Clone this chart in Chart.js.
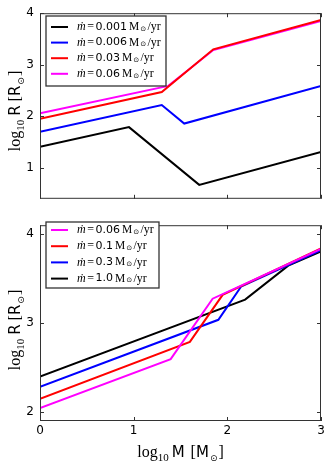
<!DOCTYPE html>
<html>
<head>
<meta charset="utf-8">
<script src="https://cdn.jsdelivr.net/npm/chart.js@4"></script>
<style>
html,body{margin:0;padding:0;background:#fff;}
#wrap{position:relative;width:332px;height:465px;overflow:hidden;background:#fff;}
canvas{position:absolute;left:0;}
</style>
</head>
<body>
<div id="wrap">
<canvas id="top" width="332" height="212" style="top:0"></canvas>
<canvas id="bot" width="332" height="253" style="top:212px"></canvas>
</div>
<script>
// ---------- data ----------
const xTicks = [0, 1, 2, 3];
const topYTicks = [1, 2, 3, 4];
const botYTicks = [2, 3, 4];

const topRates = ['0.001', '0.006', '0.03', '0.06'];
const topX = [
  [0, 0.95, 1.70, 3],
  [0, 1.30, 1.54, 3],
  [0, 1.30, 1.85, 3],
  [0, 1.37, 1.85, 3]
];
const topY = [
  [1.41, 1.79, 0.67, 1.31],
  [1.70, 2.22, 1.86, 2.59],
  [1.95, 2.47, 3.30, 3.87],
  [2.06, 2.59, 3.285, 3.85]
];

const botRates = ['0.06', '0.1', '0.3', '1.0'];
const botX = [
  [0, 1.395, 1.843, 3],
  [0, 1.60, 1.95, 3],
  [0, 1.904, 2.146, 3],
  [0, 2.19, 2.65, 3]
];
const botY = [
  [2.046, 2.595, 3.274, 3.834],
  [2.149, 2.789, 3.317, 3.84],
  [2.283, 3.037, 3.409, 3.82],
  [2.40, 3.264, 3.646, 3.805]
];

// ---------- styles ----------
const topColors = ['#000000', '#0000ff', '#ff0000', '#ff00ff'];
const botColors = ['#ff00ff', '#ff0000', '#0000ff', '#000000'];
const SANS = '"DejaVu Sans", sans-serif';
const SERIF = '"Liberation Serif", "DejaVu Serif", serif';

function drawRuns(ctx, runs, cx, cy, rotate) {
  ctx.save();
  ctx.translate(cx, cy);
  if (rotate) ctx.rotate(-Math.PI / 2);
  let total = 0;
  runs.forEach(r => { ctx.font = r.f; r.w = ctx.measureText(r.t).width; total += r.w + (r.sp || 0); });
  let x = -total / 2;
  ctx.fillStyle = '#000';
  ctx.textBaseline = 'alphabetic';
  ctx.textAlign = 'left';
  runs.forEach(r => { ctx.font = r.f; ctx.fillText(r.t, x, r.dy || 0); x += r.w + (r.sp || 0); });
  ctx.restore();
}
function drawRunsLeft(ctx, runs, x, y) {
  ctx.save();
  ctx.fillStyle = '#000';
  ctx.textBaseline = 'middle';
  ctx.textAlign = 'left';
  runs.forEach(r => { ctx.font = r.f; ctx.fillText(r.t, x, y + (r.dy || 0)); x += ctx.measureText(r.t).width + (r.sp || 0); });
  ctx.restore();
}
function legendRuns(rate) {
  return [
    {t: 'ṁ', f: 'italic 12px ' + SERIF, sp: 1.5},
    {t: '=', f: '12px ' + SERIF, sp: 1.5},
    {t: rate, f: '11px ' + SANS, sp: 2},
    {t: 'M', f: '11.5px ' + SERIF, sp: 1},
    {t: '⊙', f: '7px ' + SANS, dy: 2, sp: 1.5},
    {t: '/yr', f: '12px ' + SERIF}
  ];
}
function yTitleRuns() {
  return [
    {t: 'log', f: '16px ' + SERIF},
    {t: '10', f: '11px ' + SERIF, dy: 4, sp: 4},
    {t: 'R', f: '15px ' + SANS, sp: 4},
    {t: '[', f: '16px ' + SERIF},
    {t: 'R', f: '15px ' + SANS, sp: 1},
    {t: '⊙', f: '9px ' + SANS, dy: 4, sp: 1},
    {t: ']', f: '16px ' + SERIF}
  ];
}
function xTitleRuns() {
  return [
    {t: 'log', f: '16px ' + SERIF},
    {t: '10', f: '11px ' + SERIF, dy: 4, sp: 3},
    {t: 'M', f: '15px ' + SANS, sp: 6},
    {t: '[', f: '16px ' + SERIF},
    {t: 'M', f: '15px ' + SANS, sp: 1},
    {t: '⊙', f: '9px ' + SANS, dy: 4, sp: 1},
    {t: ']', f: '16px ' + SERIF}
  ];
}

const framePlugin = {
  id: 'frame',
  afterDatasetsDraw(chart, args, opts) {
    const ctx = chart.ctx, a = chart.chartArea;
    const xs = chart.scales.x, ys = chart.scales.y;
    ctx.save();
    ctx.strokeStyle = '#333';
    ctx.lineWidth = 1;
    ctx.strokeRect(a.left + 0.5, a.top + 0.5, a.right - a.left - 1, a.bottom - a.top - 1);
    ctx.beginPath();
    const L = 4;
    xTicks.forEach(v => {
      const px = Math.round(xs.getPixelForValue(v)) + 0.5;
      ctx.moveTo(px, a.bottom); ctx.lineTo(px, a.bottom - L);
      ctx.moveTo(px, a.top); ctx.lineTo(px, a.top + L);
    });
    opts.yt.forEach(v => {
      const py = Math.round(ys.getPixelForValue(v)) + 0.5;
      ctx.moveTo(a.left, py); ctx.lineTo(a.left + L, py);
      ctx.moveTo(a.right, py); ctx.lineTo(a.right - L, py);
    });
    ctx.stroke();
    // legend
    const lg = opts.legend;
    ctx.fillStyle = '#fff';
    ctx.fillRect(lg.x, lg.y, lg.w, lg.h);
    ctx.strokeStyle = '#333';
    ctx.lineWidth = 1.3;
    ctx.strokeRect(lg.x, lg.y, lg.w, lg.h);
    opts.rates.forEach((r, i) => {
      const yy = lg.y + lg.first + i * lg.step;
      ctx.strokeStyle = opts.colors[i];
      ctx.lineWidth = 2;
      ctx.beginPath();
      ctx.moveTo(lg.x + 5, yy); ctx.lineTo(lg.x + 22, yy);
      ctx.stroke();
      drawRunsLeft(ctx, legendRuns(r), lg.x + 31, yy);
    });
    // titles
    drawRuns(ctx, yTitleRuns(), 20, opts.ytitleY, true);
    if (opts.xtitle) drawRuns(ctx, xTitleRuns(), (a.left + a.right) / 2, opts.xtitleY, false);
    ctx.restore();
  }
};

function makeDatasets(X, Y, colors) {
  return X.map((xs, i) => ({
    data: xs.map((x, j) => ({x: x, y: Y[i][j]})),
    borderColor: colors[i],
    borderWidth: 2,
    pointRadius: 0,
    fill: false,
    tension: 0
  }));
}

function yScale(min, max, ticks) {
  return {
    type: 'linear', min: min, max: max,
    afterBuildTicks: s => { s.ticks = ticks.map(v => ({value: v})); },
    afterFit: s => { s.width = 40; },
    grid: {display: false, drawTicks: false},
    border: {display: false},
    ticks: {color: '#000', font: {family: SANS, size: 12}, padding: 6}
  };
}

Chart.defaults.animation = false;

new Chart(document.getElementById('top'), {
  type: 'line',
  data: {datasets: makeDatasets(topX, topY, topColors)},
  options: {
    responsive: false, devicePixelRatio: 1, animation: false,
    layout: {padding: {left: 0, right: 11, top: 13, bottom: 1}},
    plugins: {
      legend: {display: false}, tooltip: {enabled: false},
      frame: {yt: topYTicks, rates: topRates, colors: topColors, ytitleY: 111,
        legend: {x: 46, y: 16, w: 120, h: 70, first: 11, step: 15.6}}
    },
    scales: {
      x: {type: 'linear', min: 0, max: 3,
        afterBuildTicks: s => { s.ticks = xTicks.map(v => ({value: v})); },
        afterFit: s => { s.height = 0; },
        grid: {display: false, drawTicks: false}, border: {display: false},
        ticks: {display: false}},
      y: yScale(0.4, 4, topYTicks)
    }
  },
  plugins: [framePlugin]
});

new Chart(document.getElementById('bot'), {
  type: 'line',
  data: {datasets: makeDatasets(botX, botY, botColors)},
  options: {
    responsive: false, devicePixelRatio: 1, animation: false,
    layout: {padding: {left: 0, right: 11, top: 4, bottom: 0}},
    plugins: {
      legend: {display: false}, tooltip: {enabled: false},
      frame: {yt: botYTicks, rates: botRates, colors: botColors, ytitleY: 118,
        xtitle: true, xtitleY: 245,
        legend: {x: 46, y: 10, w: 113, h: 66, first: 8, step: 16.2}}
    },
    scales: {
      x: {type: 'linear', min: 0, max: 3,
        afterBuildTicks: s => { s.ticks = xTicks.map(v => ({value: v})); },
        afterFit: s => { s.height = 44; },
        grid: {display: false, drawTicks: false}, border: {display: false},
        ticks: {color: '#000', font: {family: SANS, size: 12}, padding: 3, maxRotation: 0}},
      y: yScale(1.9, 4.1, botYTicks)
    }
  },
  plugins: [framePlugin]
});
</script>
</body>
</html>
